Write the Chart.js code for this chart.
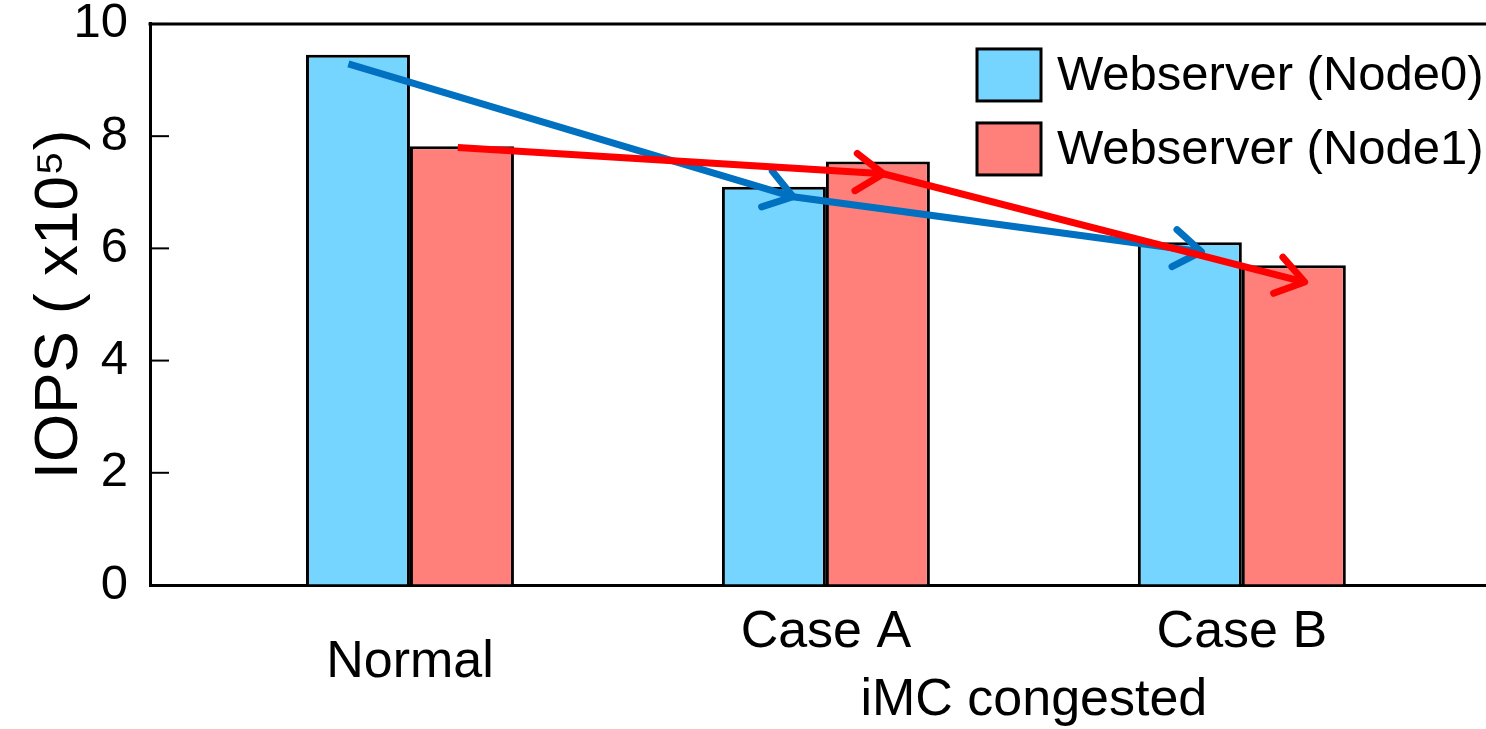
<!DOCTYPE html>
<html lang="en">
<head>
    <meta charset="UTF-8">
    <title>IOPS</title>
    <style>
        body { margin: 0; background: #fff; }
    </style>
</head>
<body>
    <canvas id="iopsChart" width="1486" height="729"></canvas>

    <script src="https://cdn.jsdelivr.net/npm/chart.js"></script>
<script>
    // values (IOPS in units of 10^5)
    const categories = ['Normal', 'Case A', 'Case B'];
    const groupLabel = 'iMC congested';
    const seriesNames = ['Webserver (Node0)', 'Webserver (Node1)'];
    const node0 = [9.45, 7.10, 6.11];
    const node1 = [7.82, 7.55, 5.70];
    const yTicks = [0, 2, 4, 6, 8, 10];

    // trend arrows, in data units (x = category index)
    const blueArrowX = [-0.148, 0.921, 1.903];
    const blueArrowY = [9.29, 6.92, 5.94];
    const redArrowX = [0.115, 1.138, 2.151];
    const redArrowY = [7.80, 7.33, 5.40];

    const FONT = "'Liberation Sans', Arial, Helvetica, sans-serif";
    Chart.defaults.font.family = FONT;
    Chart.defaults.color = '#000';

    // ticks pointing into the plot + top frame line
    const frame = {
        id: 'frame',
        afterDatasetsDraw(chart) {
            const { ctx, chartArea, scales } = chart;
            ctx.save();
            ctx.strokeStyle = '#000';
            ctx.lineWidth = 2;
            scales.y.ticks.forEach(t => {
                const y = scales.y.getPixelForValue(t.value);
                ctx.beginPath();
                ctx.moveTo(chartArea.left, y);
                ctx.lineTo(chartArea.left + 19, y);
                ctx.stroke();
            });
            ctx.lineWidth = 3;
            ctx.beginPath();
            ctx.moveTo(chartArea.left - 1.5, chartArea.top);
            ctx.lineTo(chartArea.right, chartArea.top);
            ctx.stroke();
            ctx.restore();
        }
    };

    // open chevron heads at the end of every arrow segment
    const arrowHeads = {
        id: 'arrowHeads',
        afterDatasetDraw(chart, args) {
            const meta = args.meta;
            if (meta.type !== 'line') return;
            const ds = chart.data.datasets[args.index];
            const pts = meta.data;
            const ctx = chart.ctx;
            ctx.save();
            ctx.strokeStyle = ds.borderColor;
            ctx.lineWidth = 7;
            ctx.lineCap = 'round';
            ctx.lineJoin = 'round';
            for (let i = 1; i < pts.length; i++) {
                const a = Math.atan2(pts[i].y - pts[i - 1].y, pts[i].x - pts[i - 1].x);
                const len = 33, spread = 0.6;
                ctx.beginPath();
                ctx.moveTo(pts[i].x - len * Math.cos(a - spread), pts[i].y - len * Math.sin(a - spread));
                ctx.lineTo(pts[i].x, pts[i].y);
                ctx.lineTo(pts[i].x - len * Math.cos(a + spread), pts[i].y - len * Math.sin(a + spread));
                ctx.stroke();
            }
            ctx.restore();
        }
    };

    // category labels under the axis and the group label
    const xLabels = {
        id: 'xLabels',
        afterDraw(chart) {
            const { ctx, chartArea, scales } = chart;
            ctx.save();
            ctx.fillStyle = '#000';
            ctx.font = '52px ' + FONT;
            ctx.textAlign = 'center';
            ctx.textBaseline = 'alphabetic';
            categories.forEach((c, i) => {
                const off = i === 0 ? 92 : 62;
                ctx.fillText(c, scales.x.getPixelForValue(i), chartArea.bottom + off);
            });
            const mid = (scales.x.getPixelForValue(1) + scales.x.getPixelForValue(2)) / 2;
            ctx.fillText(groupLabel, mid, chartArea.bottom + 130);
            ctx.restore();
        }
    };

    // legend inside the plot, top right
    const boxLegend = {
        id: 'boxLegend',
        afterDraw(chart) {
            const { ctx, chartArea } = chart;
            const x = chartArea.right - 509;
            ctx.save();
            ctx.font = '49px ' + FONT;
            ctx.textBaseline = 'alphabetic';
            chart.data.datasets.filter(d => d.type !== 'line').forEach((d, i) => {
                const top = chartArea.top + 25 + i * 74;
                ctx.fillStyle = d.backgroundColor;
                ctx.fillRect(x, top, 64, 52);
                ctx.strokeStyle = '#000';
                ctx.lineWidth = 3;
                ctx.strokeRect(x, top, 64, 52);
                ctx.fillStyle = '#000';
                ctx.fillText(d.label, x + 80, top + 41);
            });
            ctx.restore();
        }
    };

    const ctx = document.getElementById('iopsChart').getContext('2d');
    const iopsChart = new Chart(ctx, {
        type: 'bar',
        data: {
            datasets: [{
                label: seriesNames[0],
                data: node0.map((v, i) => ({ x: i, y: v })),
                backgroundColor: '#76D5FF',
                borderColor: '#000',
                borderWidth: 3,
                categoryPercentage: 0.5,
                barPercentage: 1.0,
                order: 2
            }, {
                label: seriesNames[1],
                data: node1.map((v, i) => ({ x: i, y: v })),
                backgroundColor: '#FF7F7A',
                borderColor: '#000',
                borderWidth: 3,
                categoryPercentage: 0.5,
                barPercentage: 1.0,
                order: 2
            }, {
                type: 'line',
                label: 'trend0',
                data: blueArrowX.map((x, i) => ({ x: x, y: blueArrowY[i] })),
                borderColor: '#0070C0',
                borderWidth: 7,
                borderCapStyle: 'butt',
                pointRadius: 0,
                fill: false,
                order: 1
            }, {
                type: 'line',
                label: 'trend1',
                data: redArrowX.map((x, i) => ({ x: x, y: redArrowY[i] })),
                borderColor: '#FF0000',
                borderWidth: 7,
                borderCapStyle: 'butt',
                pointRadius: 0,
                fill: false,
                order: 0
            }]
        },
        options: {
            responsive: false,
            animation: false,
            events: [],
            layout: { padding: 0 },
            plugins: {
                legend: { display: false },
                tooltip: { enabled: false }
            },
            scales: {
                x: {
                    type: 'linear',
                    offset: false,
                    min: -0.625,
                    max: 2.587,
                    afterBuildTicks: s => { s.ticks = categories.map((c, i) => ({ value: i })); },
                    afterFit: s => { s.height = 144; },
                    ticks: { display: false },
                    grid: { drawOnChartArea: false, drawTicks: false, offset: false },
                    border: { color: '#000', width: 3 }
                },
                y: {
                    min: 0,
                    max: 10,
                    afterBuildTicks: s => { s.ticks = yTicks.map(v => ({ value: v })); },
                    afterFit: s => { s.width = 150; },
                    ticks: {
                        padding: 22,
                        color: '#000',
                        // tiny line height keeps the top padding down to the tick gap
                        font: { size: 49, lineHeight: 0.08 }
                    },
                    grid: { drawOnChartArea: false, drawTicks: false },
                    border: { color: '#000', width: 3 },
                    title: {
                        display: true,
                        text: 'IOPS ( x10\u2075)',
                        color: '#000',
                        font: { size: 62, lineHeight: 1 },
                        padding: { top: 29, bottom: 0 }
                    }
                }
            }
        },
        plugins: [frame, arrowHeads, xLabels, boxLegend]
    });
</script>

</body>
</html>
